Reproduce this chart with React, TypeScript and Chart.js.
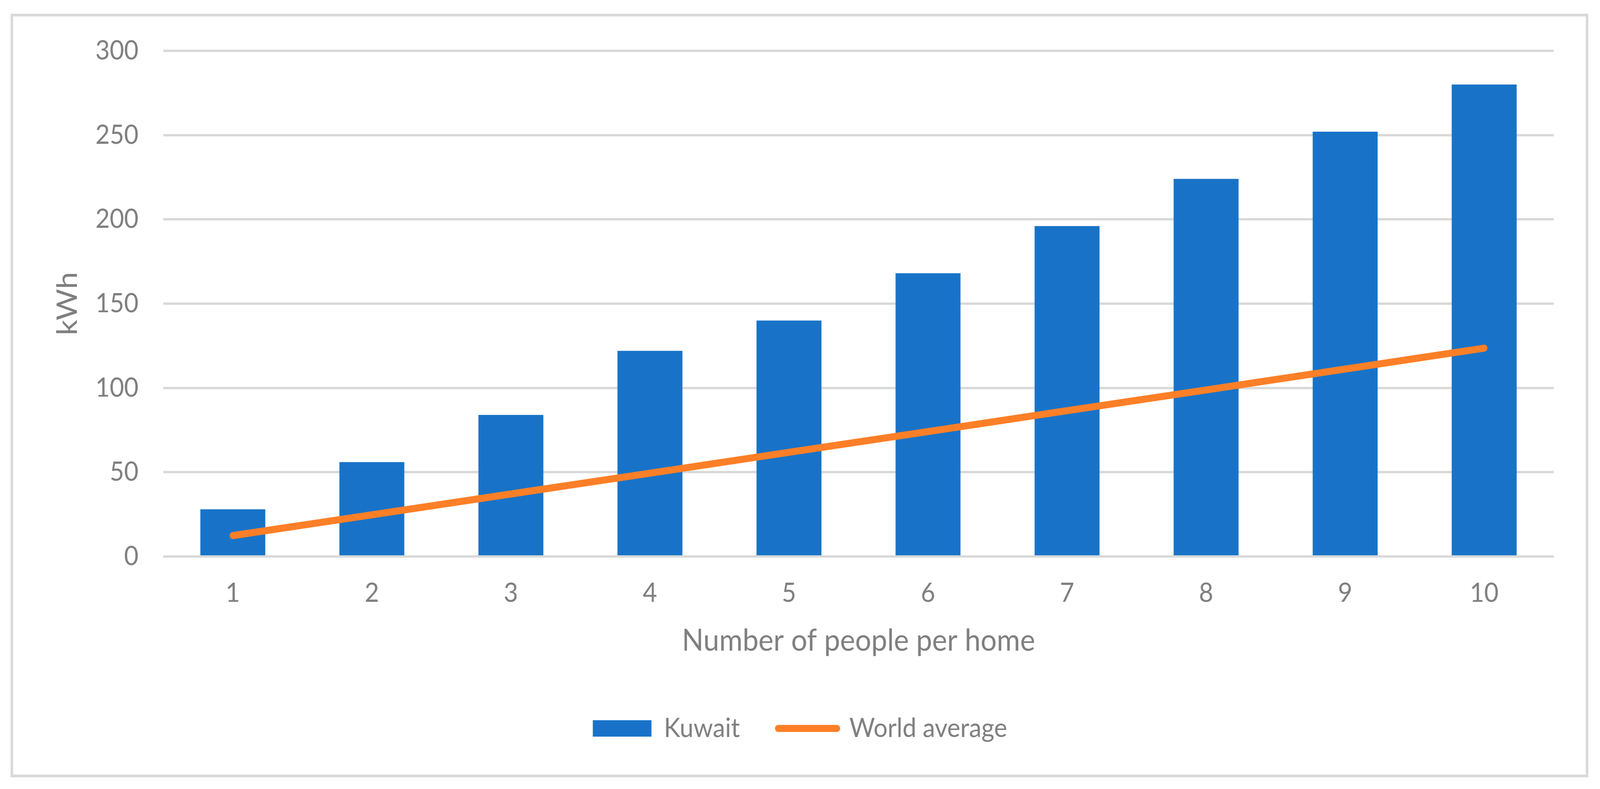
import { useEffect, useRef } from 'react';
import { Chart, registerables } from 'chart.js';

Chart.register(...registerables);

const categories = ['1', '2', '3', '4', '5', '6', '7', '8', '9', '10'];
const kuwait = [28, 56, 84, 122, 140, 168, 196, 224, 252, 280];
const worldAverage = [12.4, 24.7, 37.1, 49.4, 61.8, 74.1, 86.5, 98.8, 111.2, 123.6];
const yTicks = [0, 50, 100, 150, 200, 250, 300];
const seriesNames = ['Kuwait', 'World average'];
const xTitle = 'Number of people per home';
const yTitle = 'kWh';

const BLUE = '#1873C8';
const ORANGE = '#FD7F27';
const TEXT = '#7f7f7f';
const GRID = '#d9d9d9';
const FONT = "Lato, 'Open Sans', sans-serif";
const REF_W = 4390;
const REF_H = 2019;

const framePlugin = {
  id: 'frame',
  beforeDraw(c: any) {
    const ctx = c.ctx;
    ctx.save();
    ctx.fillStyle = '#ffffff';
    ctx.fillRect(0, 0, c.width, c.height);
    ctx.strokeStyle = GRID;
    ctx.lineWidth = 7;
    ctx.strokeRect(32.5, 38.5, 4322, 1947);
    ctx.restore();
  },
};

export default function App() {
  const ref = useRef<HTMLCanvasElement>(null);
  const cssW = window.innerWidth || REF_W;
  const cssH = window.innerHeight || REF_H;

  useEffect(() => {
    document.body.style.margin = '0';
    document.body.style.overflow = 'hidden';
    let chart: Chart | null = null;
    let cancelled = false;

    const make = () => {
      if (cancelled || !ref.current) return;
      Chart.defaults.font.family = FONT;
      chart = new Chart(ref.current, {
        type: 'bar',
        data: {
          labels: categories,
          datasets: [
            {
              type: 'bar',
              label: seriesNames[0],
              data: kuwait,
              backgroundColor: BLUE,
              borderWidth: 0,
              categoryPercentage: 1,
              barPercentage: 0.467,
              order: 1,
            },
            {
              type: 'line',
              label: seriesNames[1],
              data: worldAverage,
              borderColor: ORANGE,
              backgroundColor: ORANGE,
              borderWidth: 18,
              borderCapStyle: 'round',
              borderJoinStyle: 'round',
              pointRadius: 0,
              tension: 0,
              order: 0,
            },
          ] as any,
        },
        options: {
          animation: false,
          responsive: false,
          devicePixelRatio: 1,
          layout: { padding: { left: 0, right: 0, top: 130, bottom: 111 } },
          scales: {
            x: {
              afterFit: (s: any) => {
                s.height = 301;
              },
              grid: { display: false, drawTicks: false },
              border: { display: false },
              ticks: { color: TEXT, font: { size: 68, family: FONT }, padding: 53 },
              title: {
                display: true,
                text: xTitle,
                color: TEXT,
                font: { size: 78, family: FONT },
                padding: { top: 0, bottom: 38 },
              },
            },
            y: {
              min: 0,
              max: 300,
              afterFit: (s: any) => {
                s.width = 448;
              },
              afterBuildTicks: (s: any) => {
                s.ticks = yTicks.map((v) => ({ value: v }));
              },
              grid: { color: GRID, lineWidth: 6, drawTicks: false },
              border: { display: false },
              ticks: { color: TEXT, font: { size: 68, family: FONT }, padding: 68 },
              title: {
                display: true,
                text: yTitle,
                color: TEXT,
                font: { size: 78, family: FONT },
                padding: { top: 139, bottom: 0 },
              },
            },
            yRight: {
              type: 'linear',
              position: 'right',
              afterFit: (s: any) => {
                s.width = 127;
              },
              grid: { display: false, drawTicks: false },
              border: { display: false },
              ticks: { display: false },
            },
          },
          plugins: {
            tooltip: { enabled: false },
            legend: {
              position: 'bottom',
              labels: {
                color: TEXT,
                font: { size: 68, family: FONT },
                usePointStyle: true,
                pointStyleWidth: 161,
                boxHeight: 42,
                padding: 105,
                generateLabels: (c: any) => {
                  const items = (Chart.defaults.plugins.legend.labels as any).generateLabels(c);
                  items.sort((a: any, b: any) => a.datasetIndex - b.datasetIndex);
                  return items.map((it: any) =>
                    it.datasetIndex === 0
                      ? { ...it, pointStyle: 'rect', lineWidth: 0, fillStyle: BLUE, strokeStyle: BLUE }
                      : { ...it, pointStyle: 'line', lineWidth: 18, lineCap: 'round', fillStyle: ORANGE, strokeStyle: ORANGE }
                  );
                },
              },
            },
          },
        } as any,
        plugins: [framePlugin],
      });
    };

    if ((document as any).fonts && (document as any).fonts.load) {
      (document as any).fonts.load('68px Lato').then(make, make);
    } else {
      make();
    }

    return () => {
      cancelled = true;
      if (chart) chart.destroy();
    };
  }, []);

  return (
    <canvas
      ref={ref}
      width={REF_W}
      height={REF_H}
      style={{ display: 'block', width: cssW, height: cssH }}
    />
  );
}
